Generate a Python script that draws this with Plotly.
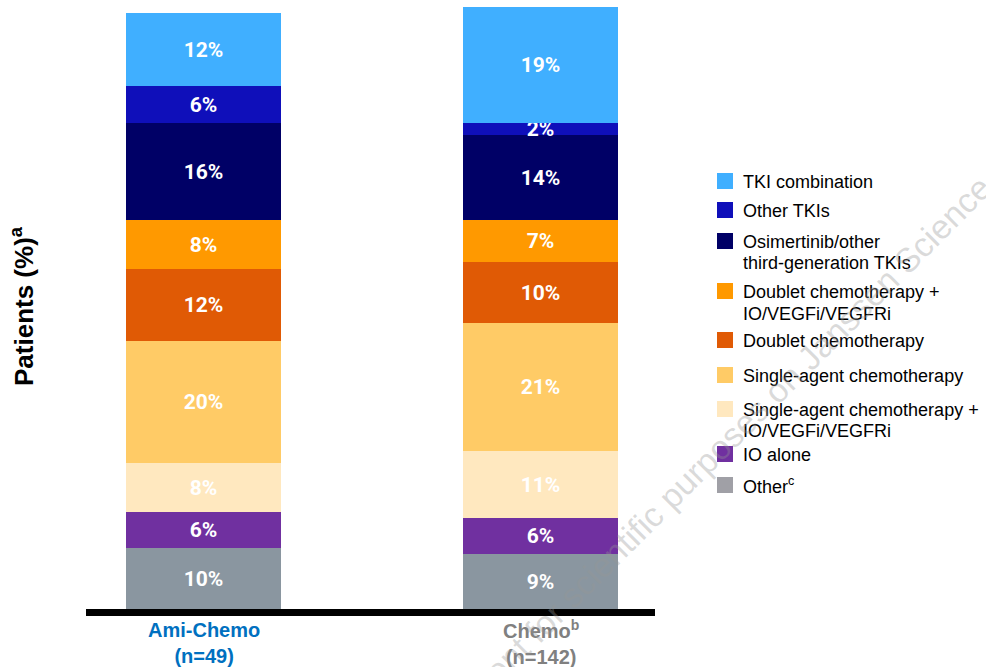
import plotly.graph_objects as go

# ---------------- data ----------------
groups = ["Ami-Chemo", "Chemo"]
group_titles = ["<b>Ami-Chemo</b>", "<b>Chemo<sup>b</sup></b>"]
group_n = ["<b>(n=49)</b>", "<b>(n=142)</b>"]
group_colors = ["#0070C0", "#808080"]

# stacking order: bottom -> top
categories = [
    "Other<sup>c</sup>",
    "IO alone",
    "Single-agent chemotherapy +<br>IO/VEGFi/VEGFRi",
    "Single-agent chemotherapy",
    "Doublet chemotherapy",
    "Doublet chemotherapy +<br>IO/VEGFi/VEGFRi",
    "Osimertinib/other<br>third-generation TKIs",
    "Other TKIs",
    "TKI combination",
]
ami_chemo = [10, 6, 8, 20, 12, 8, 16, 6, 12]
chemo = [9, 6, 11, 21, 10, 7, 14, 2, 19]

bar_colors = ["#8A96A0", "#7030A0", "#FFE8BF", "#FFCB66", "#E05A05",
              "#FF9900", "#000066", "#0F0FBA", "#40AFFF"]
swatch_colors = ["#A0A0A6", "#7030A0", "#FFE8BF", "#FFCB66", "#E05A05",
                 "#FF9900", "#000066", "#0F0FBA", "#40AFFF"]

y_title = "<b>Patients (%)<sup>a</sup></b>"
watermark = "Content for scientific purposes on Janssen Science"

# ---------------- layout helpers ----------------
W, H = 986, 667
L, R, T, B = 86, 331, 1, 58
PW, PH = W - L - R, H - T - B
x_centers_px = (203.5, 540.5)
unit = x_centers_px[1] - x_centers_px[0]
x_range = [-(x_centers_px[0] - L) / unit, 1 + (W - R - x_centers_px[1]) / unit]


def px_x(p):
    return (p - L) / PW


def px_y(p):
    return (H - B - p) / PH


label_font = dict(family="Roboto, Liberation Sans, Arial, sans-serif",
                  size=21, color="white")
text_font = "Liberation Sans, Arial, sans-serif"

fig = go.Figure()
xpos = list(range(len(groups)))
for i, cat in enumerate(categories):
    vals = [ami_chemo[i], chemo[i]]
    fig.add_trace(go.Bar(
        x=xpos, y=vals, name=cat, width=0.46,
        marker=dict(color=bar_colors[i], line=dict(width=0)),
        text=[f"<b>{v}%</b>" for v in vals],
        textposition="inside", insidetextanchor="middle",
        textangle=0, constraintext="none",
        textfont=label_font, showlegend=False,
        hoverinfo="skip",
    ))

annotations = []
shapes = []

# custom legend (top -> bottom)
legend_px = [181, 210, 241, 291, 340, 375, 409, 454, 485]
for k, idx in enumerate(reversed(range(len(categories)))):
    cy = legend_px[k]
    shapes.append(dict(type="rect", xref="paper", yref="paper",
                       x0=px_x(717), x1=px_x(733), y0=px_y(cy + 8), y1=px_y(cy - 8),
                       fillcolor=swatch_colors[idx], line=dict(width=0)))
    for j, line in enumerate(categories[idx].split("<br>")):
        annotations.append(dict(xref="paper", yref="paper", x=px_x(741), y=px_y(cy + 0.5 + 22 * j),
                                xanchor="left", yanchor="middle", showarrow=False,
                                text=line, font=dict(family=text_font, size=18, color="black")))

# category labels (two lines each)
for g in range(len(groups)):
    annotations.append(dict(xref="x", yref="paper", x=xpos[g], y=px_y(642.5),
                            xanchor="center", yanchor="middle", showarrow=False,
                            text=group_titles[g] + "<br>" + group_n[g],
                            font=dict(family=text_font, size=20, color=group_colors[g])))

# y title
annotations.append(dict(xref="paper", yref="paper", x=px_x(22), y=px_y(306),
                        xanchor="center", yanchor="middle", showarrow=False, textangle=-90,
                        text=y_title, font=dict(family=text_font, size=26, color="black")))

# watermark
annotations.append(dict(xref="paper", yref="paper", x=px_x(712), y=px_y(455),
                        xanchor="center", yanchor="middle", showarrow=False, textangle=-45,
                        text=watermark, font=dict(family=text_font, size=34,
                                                  color="rgba(150,150,150,0.35)")))

fig.update_layout(
    width=W, height=H,
    margin=dict(l=L, r=R, t=T, b=B, pad=0),
    barmode="stack", bargap=0,
    plot_bgcolor="white", paper_bgcolor="white",
    showlegend=False,
    xaxis=dict(range=x_range, showgrid=False, zeroline=False, showticklabels=False,
               ticks="", showline=True, linecolor="black", linewidth=7, fixedrange=True),
    yaxis=dict(range=[0, 100], showgrid=False, zeroline=False, showticklabels=False,
               ticks="", showline=False, fixedrange=True),
    annotations=annotations, shapes=shapes,
)

fig.write_html("out.html")
